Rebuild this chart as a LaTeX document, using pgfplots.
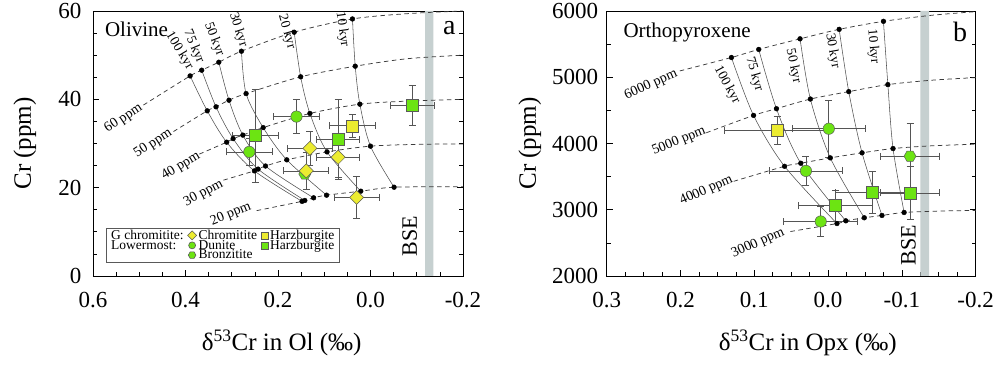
\documentclass[border=0pt]{standalone}
\usepackage{fontspec}
\setmainfont{Liberation Serif}
\usepackage{pgfplots}
\pgfplotsset{compat=1.18}
\usetikzlibrary{plotmarks}

\definecolor{yel}{RGB}{236,236,48}
\definecolor{grn}{RGB}{108,228,18}
\definecolor{bse}{RGB}{198,208,208}
\definecolor{crv}{RGB}{60,60,60}
\definecolor{kcrv}{RGB}{80,80,80}
\definecolor{ebar}{RGB}{85,85,85}
\definecolor{medge}{RGB}{90,90,90}

\pgfdeclareplotmark{hexagon*}{%
  \pgfpathmoveto{\pgfqpointpolar{0}{\pgfplotmarksize}}%
  \pgfpathlineto{\pgfqpointpolar{60}{\pgfplotmarksize}}%
  \pgfpathlineto{\pgfqpointpolar{120}{\pgfplotmarksize}}%
  \pgfpathlineto{\pgfqpointpolar{180}{\pgfplotmarksize}}%
  \pgfpathlineto{\pgfqpointpolar{240}{\pgfplotmarksize}}%
  \pgfpathlineto{\pgfqpointpolar{300}{\pgfplotmarksize}}%
  \pgfpathclose
  \pgfusepathqfillstroke
}

\tikzset{
  klab/.style={font=\fontsize{13.5}{13.5}\selectfont, inner sep=0pt},
  plab/.style={font=\fontsize{14}{14}\selectfont, inner sep=0pt},
}

\pgfplotsset{
  panel/.style={
    scale only axis,
    x dir=reverse,
    axis line style={line width=0.9pt},
    tick align=inside,
    xtick pos=left, ytick pos=both,
    major tick length=6pt, minor tick length=4pt,
    every tick/.style={black, line width=0.7pt},
    ticklabel style={font=\fontsize{23}{23}\selectfont},
    /pgf/number format/assume math mode=true,
    label style={font=\fontsize{25}{25}\selectfont},
    xticklabel style={yshift=-13pt},
    legend cell align=left,
  },
  ppm/.style={forget plot, crv, line width=0.75pt, dash pattern=on 4.5pt off 3.5pt, smooth, tension=0.5},
  kyr/.style={forget plot, kcrv, line width=0.55pt, smooth, tension=0.5},
  dots/.style={forget plot, only marks, mark=*, mark size=2.4pt, black},
  ebars/.style={error bars/.cd, x dir=both, x explicit, y dir=both, y explicit,
    error bar style={ebar, line width=0.75pt},
    error mark options={rotate=90, mark size=3.5pt, ebar, line width=0.75pt}},
  gsq/.style={forget plot, only marks, mark=square*, mark size=6pt, mark options={fill=grn, draw=medge, line width=0.5pt}},
  ysq/.style={forget plot, only marks, mark=square*, mark size=6pt, mark options={fill=yel, draw=medge, line width=0.5pt}},
  ydia/.style={forget plot, only marks, mark=square*, mark size=5pt, mark options={rotate=45, fill=yel, draw=medge, line width=0.5pt}},
  gcir/.style={forget plot, only marks, mark=*, mark size=5.7pt, mark options={fill=grn, draw=medge, line width=0.5pt}},
  ghex/.style={forget plot, only marks, mark=hexagon*, mark size=6pt, mark options={fill=grn, draw=medge, line width=0.5pt}},
  legmark/.style={only marks, legend image code/.code={\draw[##1] plot coordinates {(0pt,0pt)};}},
}

\begin{document}
\begin{tikzpicture}
\useasboundingbox (-93pt,-90pt) rectangle (903pt,276pt);

% ---------------- panel a ----------------
\begin{axis}[panel,
  at={(0pt,0pt)}, anchor=south west,
  width=370pt, height=265pt,
  xmin=-0.2, xmax=0.6, ymin=0, ymax=60,
  xtick={-0.2,0,0.2,0.4,0.6}, minor x tick num=3,
  ytick={0,20,40,60}, minor y tick num=3,
  xticklabel style={/pgf/number format/.cd, fixed, fixed zerofill, precision=1},
  yticklabel style={xshift=-8pt},
  xlabel={δ\textsuperscript{53}Cr in Ol (‰)},
  ylabel={Cr (ppm)},
  xlabel style={at={(axis description cs:0.51,-0.253)}, anchor=center},
  ylabel style={at={(axis description cs:-0.184,0.5)}, anchor=center},
  legend columns=3,
  legend style={at={(axis cs:0.572,10.9)}, anchor=north west,
    font=\fontsize{13.5}{14}\selectfont, draw=gray!70!black, line width=0.6pt,
    inner xsep=3pt, inner ysep=1pt, row sep=-2.5pt,
    nodes={inner ysep=0.8pt, inner xsep=2pt},
    /tikz/every even column/.append style={column sep=2pt}},
]
\addplot[forget plot, fill=bse, draw=none] coordinates {(-0.118,0) (-0.136,0) (-0.136,60) (-0.118,60)} \closedcycle;

% ppm curves
\addplot[ppm] coordinates {(0.491,38.7) (0.390,45.3) (0.365,46.6) (0.328,48.4) (0.279,50.9) (0.165,55.2) (0.039,58.2) (-0.08,59.4) (-0.2,60.0)};
\addplot[ppm] coordinates {(0.426,32.7) (0.353,37.4) (0.334,38.3) (0.306,39.8) (0.269,41.3) (0.151,45.1) (0.033,47.5) (-0.08,49.2) (-0.2,50.0)};
\addplot[ppm] coordinates {(0.370,27.6) (0.311,30.3) (0.297,31.1) (0.276,31.9) (0.232,33.6) (0.131,36.8) (0.023,38.9) (-0.08,39.6) (-0.2,40.0)};
\addplot[ppm] coordinates {(0.318,21.7) (0.251,23.8) (0.243,24.2) (0.227,24.9) (0.181,26.3) (0.094,28.1) (0.000,29.4) (-0.1,29.8) (-0.2,29.9)};
\addplot[ppm] coordinates {(0.246,14.8) (0.148,16.9) (0.142,17.1) (0.123,17.7) (0.095,18.3) (0.021,19.2) (-0.051,20.1) (-0.2,20.2)};

% kyr curves
\addplot[kyr] coordinates {(0.390,45.3) (0.353,37.4) (0.311,30.3) (0.251,23.8) (0.148,16.9)};
\addplot[kyr] coordinates {(0.365,46.6) (0.334,38.3) (0.297,31.1) (0.243,24.2) (0.142,17.1)};
\addplot[kyr] coordinates {(0.328,48.4) (0.306,39.8) (0.276,31.9) (0.227,24.9) (0.123,17.7)};
\addplot[kyr] coordinates {(0.279,50.9) (0.269,41.3) (0.232,33.6) (0.181,26.3) (0.095,18.3)};
\addplot[kyr] coordinates {(0.165,55.2) (0.151,45.1) (0.131,36.8) (0.094,28.1) (0.021,19.2)};
\addplot[kyr] coordinates {(0.039,58.2) (0.033,47.5) (0.023,38.9) (0.000,29.4) (-0.051,20.1)};

\addplot[dots] coordinates {
(0.390,45.3) (0.353,37.4) (0.311,30.3) (0.251,23.8) (0.148,16.9)
(0.365,46.6) (0.334,38.3) (0.297,31.1) (0.243,24.2) (0.142,17.1)
(0.328,48.4) (0.306,39.8) (0.276,31.9) (0.227,24.9) (0.123,17.7)
(0.279,50.9) (0.269,41.3) (0.232,33.6) (0.181,26.3) (0.095,18.3)
(0.165,55.2) (0.151,45.1) (0.131,36.8) (0.094,28.1) (0.021,19.2)
(0.039,58.2) (0.033,47.5) (0.023,38.9) (0.000,29.4) (-0.051,20.1)};

% data
\addplot[gcir, ebars] table[x=x, y=y, x error=ex, y error=ey] {
x y ex ey
0.160 36.1 0.049 3.9
0.262 28.1 0.049 3.0
};
\addplot[gsq, ebars] table[x=x, y=y, x error=ex, y error=ey] {
x y ex ey
-0.090 38.6 0.048 4.5
0.070 30.9 0.047 9.0
0.249 31.8 0.050 10.5
};
\addplot[ysq, ebars] table[x=x, y=y, x error=ex, y error=ey] {
x y ex ey
0.039 34.0 0.049 2.7
};
\addplot[ghex] coordinates {(0.142,23.1)};
\addplot[ydia, ebars] table[x=x, y=y, x error=ex, y error=ey] {
x y ex ey
0.131 28.9 0.049 3.8
0.070 26.9 0.047 4.5
0.139 23.8 0.049 4.2
0.030 17.8 0.049 4.7
};

% labels
\node[klab, rotate=-59] at (axis cs:0.413,51.0) {100 kyr};
\node[klab, rotate=-67] at (axis cs:0.382,51.9) {75 kyr};
\node[klab, rotate=-69] at (axis cs:0.338,53.6) {50 kyr};
\node[klab, rotate=-72] at (axis cs:0.286,55.7) {30 kyr};
\node[klab, rotate=-74] at (axis cs:0.181,55.3) {20 kyr};
\node[klab, rotate=-82] at (axis cs:0.061,55.8) {10 kyr};
\node[plab, rotate=34] at (axis cs:0.534,35.7) {60 ppm};
\node[plab, rotate=33] at (axis cs:0.470,30.0) {50 ppm};
\node[plab, rotate=31] at (axis cs:0.410,24.9) {40 ppm};
\node[plab, rotate=28] at (axis cs:0.361,18.7) {30 ppm};
\node[plab, rotate=22] at (axis cs:0.302,14.0) {20 ppm};
\node[font=\fontsize{22}{22}\selectfont, rotate=90, inner sep=0pt] at (axis cs:-0.085,9.0) {BSE};
\node[font=\fontsize{21}{21}\selectfont, anchor=north west, inner sep=0pt] at (rel axis cs:0.032,0.96) {Olivine};
\node[font=\fontsize{28}{28}\selectfont, inner sep=0pt] at (rel axis cs:0.963,0.935) {a};

% legend
\addlegendimage{empty legend}\addlegendentry{G chromitite:}
\addlegendimage{legmark, mark=square*, mark size=3.2pt, mark options={rotate=45, fill=yel, draw=medge}}\addlegendentry{Chromitite}
\addlegendimage{legmark, mark=square*, mark size=3.5pt, mark options={fill=yel, draw=medge}}\addlegendentry{Harzburgite}
\addlegendimage{empty legend}\addlegendentry{Lowermost:}
\addlegendimage{legmark, mark=*, mark size=3.5pt, mark options={fill=grn, draw=medge}}\addlegendentry{Dunite}
\addlegendimage{legmark, mark=square*, mark size=3.5pt, mark options={fill=grn, draw=medge}}\addlegendentry{Harzburgite}
\addlegendimage{empty legend}\addlegendentry{}
\addlegendimage{legmark, mark=hexagon*, mark size=3.8pt, mark options={fill=grn, draw=medge}}\addlegendentry{Bronzitite}
\end{axis}

% ---------------- panel b ----------------
\begin{axis}[panel,
  at={(513.7pt,0pt)}, anchor=south west,
  width=369pt, height=265pt,
  xmin=-0.2, xmax=0.3, ymin=2000, ymax=6000,
  xtick={-0.2,-0.1,0,0.1,0.2,0.3}, minor x tick num=3,
  ytick={2000,3000,4000,5000,6000}, minor y tick num=1,
  xticklabel style={/pgf/number format/.cd, fixed, fixed zerofill, precision=1},
  yticklabel style={xshift=-5pt, /pgf/number format/.cd, 1000 sep={}},
  xlabel={δ\textsuperscript{53}Cr in Opx (‰)},
  ylabel={Cr (ppm)},
  xlabel style={at={(axis description cs:0.545,-0.253)}, anchor=center},
  ylabel style={at={(axis description cs:-0.208,0.5)}, anchor=center},
]
\addplot[forget plot, fill=bse, draw=none] coordinates {(-0.125,2000) (-0.137,2000) (-0.137,6000) (-0.125,6000)} \closedcycle;

\addplot[ppm] coordinates {(0.201,5095) (0.131,5298) (0.094,5420) (0.038,5580) (-0.015,5723) (-0.075,5844) (-0.14,5935) (-0.2,5990)};
\addplot[ppm] coordinates {(0.165,4162) (0.101,4424) (0.070,4525) (0.024,4671) (-0.028,4783) (-0.081,4889) (-0.14,4955) (-0.2,4995)};
\addplot[ppm] coordinates {(0.128,3429) (0.059,3656) (0.037,3702) (-0.003,3783) (-0.046,3859) (-0.088,3924) (-0.14,3965) (-0.2,3989)};
\addplot[ppm] coordinates {(0.051,2671) (-0.012,2792) (-0.024,2833) (-0.049,2879) (-0.073,2914) (-0.103,2959) (-0.15,2980) (-0.2,2989)};

\addplot[kyr] coordinates {(0.131,5298) (0.101,4424) (0.059,3656) (-0.012,2792)};
\addplot[kyr] coordinates {(0.094,5420) (0.070,4525) (0.037,3702) (-0.024,2833)};
\addplot[kyr] coordinates {(0.038,5580) (0.024,4671) (-0.003,3783) (-0.049,2879)};
\addplot[kyr] coordinates {(-0.015,5723) (-0.028,4783) (-0.046,3859) (-0.073,2914)};
\addplot[kyr] coordinates {(-0.075,5844) (-0.081,4889) (-0.088,3924) (-0.103,2959)};

\addplot[dots] coordinates {
(0.131,5298) (0.101,4424) (0.059,3656) (-0.012,2792)
(0.094,5420) (0.070,4525) (0.037,3702) (-0.024,2833)
(0.038,5580) (0.024,4671) (-0.003,3783) (-0.049,2879)
(-0.015,5723) (-0.028,4783) (-0.046,3859) (-0.073,2914)
(-0.075,5844) (-0.081,4889) (-0.088,3924) (-0.103,2959)};

\addplot[ysq, ebars] table[x=x, y=y, x error=ex, y error=ey] {
x y ex ey
0.069 4197 0.071 215
};
\addplot[gcir, ebars] table[x=x, y=y, x error=ex, y error=ey] {
x y ex ey
-0.001 4223 0.050 430
0.030 3586 0.050 222
0.010 2823 0.050 228
};
\addplot[gsq, ebars] table[x=x, y=y, x error=ex, y error=ey] {
x y ex ey
-0.111 3253 0.040 405
-0.060 3262 0.050 313
-0.010 3061 0.050 233
};
\addplot[ghex, ebars] table[x=x, y=y, x error=ex, y error=ey] {
x y ex ey
-0.111 3808 0.040 490
};

\node[klab, rotate=-62] at (axis cs:0.137,4883) {100 kyr};
\node[klab, rotate=-74] at (axis cs:0.100,5045) {75 kyr};
\node[klab, rotate=-78] at (axis cs:0.047,5171) {50 kyr};
\node[klab, rotate=-80] at (axis cs:-0.006,5400) {30 kyr};
\node[klab, rotate=-85] at (axis cs:-0.061,5465) {10 kyr};
\node[plab, rotate=24] at (axis cs:0.240,4883) {6000 ppm};
\node[plab, rotate=22] at (axis cs:0.202,4035) {5000 ppm};
\node[plab, rotate=24] at (axis cs:0.165,3292) {4000 ppm};
\node[plab, rotate=24] at (axis cs:0.095,2495) {3000 ppm};
\node[font=\fontsize{22}{22}\selectfont, rotate=90, inner sep=0pt] at (axis cs:-0.109,2470) {BSE};
\node[font=\fontsize{21}{21}\selectfont, anchor=north west, inner sep=0pt] at (rel axis cs:0.045,0.955) {Orthopyroxene};
\node[font=\fontsize{28}{28}\selectfont, inner sep=0pt] at (rel axis cs:0.958,0.92) {b};
\end{axis}
\end{tikzpicture}
\end{document}
